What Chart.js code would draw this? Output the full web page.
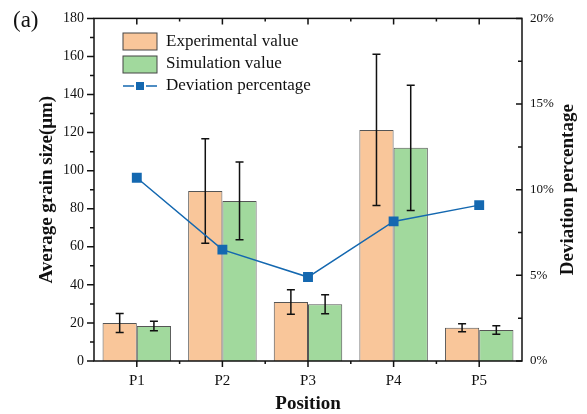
<!DOCTYPE html>
<html>
<head>
<meta charset="utf-8">
<script src="https://cdn.jsdelivr.net/npm/chart.js@4"></script>
<style>
  body { margin: 0; background: #fff; }
  canvas { display: block; }
</style>
</head>
<body>
<canvas id="myChart" width="587" height="414"></canvas>
<script>
// data
const positions = ['P1', 'P2', 'P3', 'P4', 'P5']
const experimental = [20, 89.3, 31, 121.4, 17.5]
const experimentalErr = [5, 27.5, 6.5, 39.7, 2.1]
const simulation = [18.4, 84.1, 29.8, 112, 16.3]
const simulationErr = [2.5, 20.4, 5, 32.9, 2.2]
const deviation = [10.7, 6.5, 4.9, 8.15, 9.1]

const serif = "'Liberation Serif', 'Times New Roman', serif"
const orange = '#F9C69A'
const green = '#A1D99D'
const blue = '#1468B0'

const errors = [experimentalErr, simulationErr]

const errorBars = {
  id: 'errorBars',
  afterDatasetDraw(chart, args) {
    const i = args.index
    if (i > 1) return
    const ds = chart.data.datasets[i]
    const y = chart.scales.y
    const ctx = chart.ctx
    ctx.save()
    ctx.strokeStyle = '#111'
    ctx.lineWidth = 1.5
    args.meta.data.forEach((bar, j) => {
      const top = y.getPixelForValue(ds.data[j] + errors[i][j])
      const bot = y.getPixelForValue(ds.data[j] - errors[i][j])
      ctx.beginPath()
      ctx.moveTo(bar.x, top); ctx.lineTo(bar.x, bot)
      ctx.moveTo(bar.x - 4, top); ctx.lineTo(bar.x + 4, top)
      ctx.moveTo(bar.x - 4, bot); ctx.lineTo(bar.x + 4, bot)
      ctx.stroke()
    })
    ctx.restore()
  }
}

const frame = {
  id: 'frame',
  afterDraw(chart) {
    const ctx = chart.ctx
    const a = chart.chartArea
    const x = chart.scales.x
    const y = chart.scales.y
    const y1 = chart.scales.y1
    ctx.save()
    ctx.strokeStyle = '#111'
    ctx.lineWidth = 1.5
    ctx.strokeRect(a.left, a.top, a.right - a.left, a.bottom - a.top)

    ctx.beginPath()
    // left axis, outward ticks
    for (let v = 0; v <= 180; v += 10) {
      const p = y.getPixelForValue(v)
      const len = v % 20 == 0 ? 7 : 4
      ctx.moveTo(a.left - len, p); ctx.lineTo(a.left, p)
    }
    // right axis, inward ticks
    for (let v = 0; v <= 20; v += 2.5) {
      const p = y1.getPixelForValue(v)
      const len = v % 5 == 0 ? 6 : 4
      ctx.moveTo(a.right - len, p); ctx.lineTo(a.right, p)
    }
    // bottom and top ticks
    positions.forEach((c, j) => {
      const p = x.getPixelForValue(j)
      ctx.moveTo(p, a.bottom); ctx.lineTo(p, a.bottom + 6)
      ctx.moveTo(p, a.top); ctx.lineTo(p, a.top + 6)
      if (j > 0) {
        const b = (p + x.getPixelForValue(j - 1)) / 2
        ctx.moveTo(b, a.bottom); ctx.lineTo(b, a.bottom + 3)
        ctx.moveTo(b, a.top); ctx.lineTo(b, a.top + 3)
      }
    })
    ctx.stroke()

    // titles
    ctx.fillStyle = '#111'
    ctx.textAlign = 'center'
    ctx.textBaseline = 'middle'
    ctx.font = 'bold 19px ' + serif
    ctx.fillText('Position', (a.left + a.right) / 2, 404)
    const midY = (a.top + a.bottom) / 2
    ctx.save()
    ctx.translate(47, midY)
    ctx.rotate(-Math.PI / 2)
    ctx.fillText('Average grain size(μm)', 0, 0)
    ctx.restore()
    ctx.save()
    ctx.translate(568, midY)
    ctx.rotate(-Math.PI / 2)
    ctx.fillText('Deviation percentage', 0, 0)
    ctx.restore()

    ctx.font = '23px ' + serif
    ctx.textAlign = 'left'
    ctx.fillText('(a)', 13, 21)

    // legend
    ctx.lineWidth = 1
    ctx.strokeStyle = '#444'
    ctx.fillStyle = orange
    ctx.fillRect(123, 33, 34, 17); ctx.strokeRect(123, 33, 34, 17)
    ctx.fillStyle = green
    ctx.fillRect(123, 56, 34, 17); ctx.strokeRect(123, 56, 34, 17)
    ctx.strokeStyle = blue
    ctx.lineWidth = 1.5
    ctx.beginPath()
    ctx.moveTo(123, 86); ctx.lineTo(134, 86)
    ctx.moveTo(146, 86); ctx.lineTo(157, 86)
    ctx.stroke()
    ctx.fillStyle = blue
    ctx.fillRect(136, 82, 8, 8)
    ctx.fillStyle = '#111'
    ctx.font = '17px ' + serif
    ctx.fillText('Experimental value', 166, 42)
    ctx.fillText('Simulation value', 166, 64)
    ctx.fillText('Deviation percentage', 166, 86)
    ctx.restore()
  }
}

const ctx = document.getElementById('myChart')

new Chart(ctx, {
  type: 'bar',
  data: {
    labels: positions,
    datasets: [{
      label: 'Experimental value',
      data: experimental,
      backgroundColor: orange,
      borderColor: '#555',
      borderWidth: 1,
      yAxisID: 'y',
      categoryPercentage: 0.8,
      barPercentage: 1,
      order: 1
    }, {
      label: 'Simulation value',
      data: simulation,
      backgroundColor: green,
      borderColor: '#555',
      borderWidth: 1,
      yAxisID: 'y',
      categoryPercentage: 0.8,
      barPercentage: 1,
      order: 1
    }, {
      type: 'line',
      label: 'Deviation percentage',
      data: deviation,
      yAxisID: 'y1',
      borderColor: blue,
      borderWidth: 1.5,
      pointStyle: 'rect',
      pointRadius: 7,
      pointBorderWidth: 0,
      pointBackgroundColor: blue,
      tension: 0,
      order: 0
    }]
  },
  options: {
    responsive: false,
    animation: false,
    devicePixelRatio: 1,
    layout: { autoPadding: false, padding: { top: 15, left: 0, right: 0, bottom: 0 } },
    plugins: { legend: { display: false }, tooltip: { enabled: false } },
    scales: {
      x: {
        position: 'bottom',
        grid: { display: false, drawTicks: false },
        border: { display: false },
        ticks: { color: '#111', font: { family: serif, size: 15 }, padding: 11 },
        afterFit: s => { s.height = 53 }
      },
      y: {
        position: 'left',
        min: 0, max: 180,
        grid: { display: false, drawTicks: false },
        border: { display: false },
        ticks: { stepSize: 20, color: '#111', font: { family: serif, size: 14 }, padding: 10 },
        afterFit: s => { s.width = 94 }
      },
      y1: {
        position: 'right',
        min: 0, max: 20,
        grid: { display: false, drawTicks: false },
        border: { display: false },
        ticks: { stepSize: 5, color: '#111', font: { family: serif, size: 13 }, padding: 8,
          callback: v => v + '%' },
        afterFit: s => { s.width = 65 }
      }
    }
  },
  plugins: [errorBars, frame]
})
</script>
</body>
</html>
